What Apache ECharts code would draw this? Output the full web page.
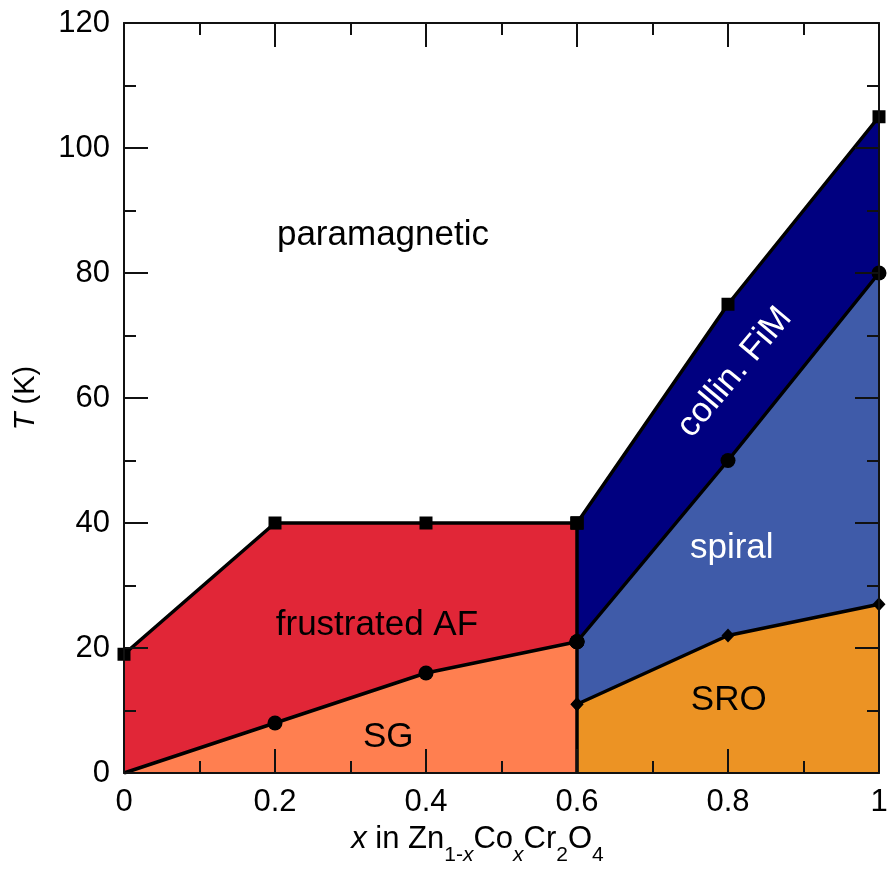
<!DOCTYPE html>
<html><head><meta charset="utf-8">
<script src="https://cdn.jsdelivr.net/npm/echarts@6/dist/echarts.min.js"></script>
<style>html,body{margin:0;padding:0;background:#fff}#c{width:893px;height:871px}</style>
</head><body><div id="c"></div>
<script>
// Phase boundaries (x, T in K)
const paraLeft   = [[0,19],[0.2,40],[0.4,40],[0.6,40]];   // squares, 0..0.6
const paraRight  = [[0.6,40],[0.8,75],[1,105]];          // squares, 0.6..1
const sgTop      = [[0,0],[0.2,8],[0.4,16],[0.6,21]];     // circles
const spiralTop  = [[0.6,21],[0.8,50],[1,80]];           // circles
const sroTop     = [[0.6,11],[0.8,22],[1,27]];           // diamonds
const divider    = [[0.6,0],[0.6,40]];
const xTicks = [0,0.2,0.4,0.6,0.8,1];
const yTicks = [0,20,40,60,80,100,120];
const labels = [
  {name:'paramagnetic', value:[0.343,86.1], color:'#000', rot:0},
  {name:'frustrated AF', value:[0.335,23.6], color:'#000', rot:0},
  {name:'SG', value:[0.35,5.7], color:'#000', rot:0},
  {name:'collin. FiM', value:[0.809,64.1], color:'#fff', rot:50},
  {name:'spiral', value:[0.805,35.9], color:'#fff', rot:0},
  {name:'SRO', value:[0.801,11.6], color:'#000', rot:0}
];

const FONT = '"Liberation Sans", Arial, Helvetica, sans-serif';
const chart = echarts.init(document.getElementById('c'), null, {renderer:'canvas'});
const axisLine = {show:true, onZero:false, lineStyle:{color:'#111', width:2}};
const subBase = {fontSize:21, verticalAlign:'top', lineHeight:22, padding:[21,0,0,0], fontFamily:FONT, color:'#000'};
function xAx(pos, showLabel){
  return {type:'value', position:pos, min:0, max:1, interval:0.2, z:5,
    axisLine, axisTick:{show:true, inside:true, length:24, lineStyle:{color:'#111', width:2}},
    minorTick:{show:true, splitNumber:2, length:12, lineStyle:{color:'#111', width:2}},
    splitLine:{show:false},
    axisLabel:{show:showLabel, inside:false, margin:14, fontSize:31, color:'#000', fontFamily:FONT,
      formatter: v => xTicks.includes(+v.toFixed(1)) ? String(+v.toFixed(1)) : ''},
    name: showLabel ? '{i|x}{n| in Zn}{s|1-}{si|x}{n|Co}{si|x}{n|Cr}{s|2}{n|O}{s|4}' : '',
    nameLocation:'middle', nameGap:51,
    nameTextStyle:{fontSize:31, color:'#000', fontFamily:FONT, padding:[0,48,0,0],
      rich:{i:{fontStyle:'italic', fontSize:31, fontFamily:FONT, verticalAlign:'top', lineHeight:34, color:'#000'},
            n:{fontSize:31, fontFamily:FONT, verticalAlign:'top', lineHeight:34, color:'#000'},
            s:subBase,
            si:Object.assign({}, subBase, {fontStyle:'italic'})}}
  };
}
function yAx(pos, showLabel){
  return {type:'value', position:pos, min:0, max:120, interval:20, z:5,
    axisLine, axisTick:{show:true, inside:true, length:24, lineStyle:{color:'#111', width:2}},
    minorTick:{show:true, splitNumber:2, length:12, lineStyle:{color:'#111', width:2}},
    splitLine:{show:false},
    axisLabel:{show:showLabel, margin:14, fontSize:31, color:'#000', fontFamily:FONT,
      formatter: v => yTicks.includes(v) ? String(v) : ''},
    name: showLabel ? '{i|T} (K)' : '', nameLocation:'middle', nameGap:84, nameRotate:90,
    nameTextStyle:{fontSize:29, color:'#000', fontFamily:FONT,
      rich:{i:{fontStyle:'italic', fontSize:29, fontFamily:FONT}}}
  };
}
function area(data, fill, symbol, size){
  return {type:'line', data: data.map((p,i)=> (symbol==='none-first' && i===0) ? {value:p, symbol:'none'} : p),
    xAxisIndex:0, yAxisIndex:0, z:2,
    symbol: symbol==='none-first' ? 'circle' : symbol, symbolSize:size, showAllSymbol:true,
    itemStyle:{color:'#000'}, lineStyle:{color:'#000', width:3.5},
    areaStyle:{color:fill, opacity:1}, animation:false};
}
chart.setOption({
  animation:false,
  backgroundColor:'#fff',
  grid:{left:124, right:14, top:23, bottom:95, containLabel:false},
  xAxis:[xAx('bottom', true), xAx('top', false)],
  yAxis:[yAx('left', true), yAx('right', false)],
  series:[
    area(paraLeft, '#e12637', 'rect', 13),
    area(paraRight, '#000080', 'rect', 13),
    area(sgTop, '#ff7f50', 'none-first', 15),
    area(spiralTop, '#3f5ba9', 'circle', 15),
    area(sroTop, '#ec9324', 'diamond', [13,14]),
    {type:'line', data:divider, symbol:'none', z:3, lineStyle:{color:'#000', width:3.5}, animation:false},
    // re-draw markers at 0.6 above the divider
    {type:'scatter', z:4, data:[[0.6,40]], symbol:'rect', symbolSize:13, itemStyle:{color:'#000', opacity:1}, animation:false},
    {type:'scatter', z:4, data:[[0.6,21]], symbol:'circle', symbolSize:15, itemStyle:{color:'#000', opacity:1}, animation:false},
    {type:'scatter', z:4, data:[[0.6,11]], symbol:'diamond', symbolSize:[13,14], itemStyle:{color:'#000', opacity:1}, animation:false},
    {type:'scatter', z:6, symbolSize:0, animation:false, itemStyle:{opacity:1},
      data: labels.map(l=>({name:l.name, value:l.value,
        label:{show:true, position:'inside', formatter:l.name, color:l.color, rotate:l.rot, opacity:1,
          fontSize:35, fontFamily:FONT}}))}
  ]
});
</script></body></html>
